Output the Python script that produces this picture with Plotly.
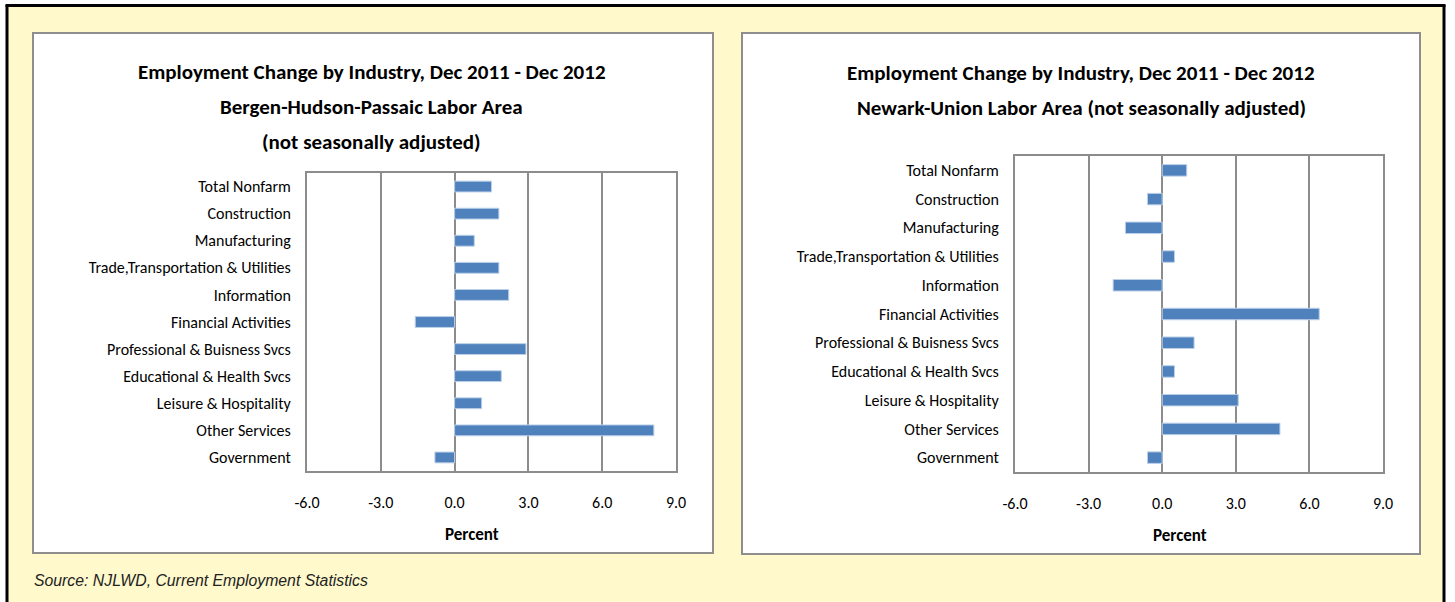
import plotly.graph_objects as go

W, H = 1455, 602

categories = ["Total Nonfarm", "Construction", "Manufacturing",
              "Trade,Transportation & Utilities", "Information",
              "Financial Activities", "Professional & Buisness Svcs",
              "Educational & Health Svcs", "Leisure & Hospitality",
              "Other Services", "Government"]
bergen_values = [1.5, 1.8, 0.8, 1.8, 2.2, -1.6, 2.9, 1.9, 1.1, 8.1, -0.8]
newark_values = [1.0, -0.6, -1.5, 0.5, -2.0, 6.4, 1.3, 0.5, 3.1, 4.8, -0.6]
tick_vals = [-6, -3, 0, 3, 6, 9]
tick_text = ["-6.0", "-3.0", "0.0", "3.0", "6.0", "9.0"]

left_title = ["Employment Change by Industry, Dec 2011 - Dec 2012",
              "Bergen-Hudson-Passaic Labor Area",
              "(not seasonally adjusted)"]
right_title = ["Employment Change by Industry, Dec 2011 - Dec 2012",
               "Newark-Union Labor Area (not seasonally adjusted)"]
source_text = "Source: NJLWD, Current Employment Statistics"

FONT = "Carlito, Calibri, 'Liberation Sans Narrow', 'DejaVu Sans Condensed', Lato, sans-serif"
BAR = "#4F81BD"
GRID = "#8c8c8c"


def px(x):
    return x / W


def py(y):
    return 1 - y / H


fig = go.Figure()
fig.add_trace(go.Bar(y=categories, x=bergen_values, orientation="h",
                     marker=dict(color=BAR, line=dict(color="#bcd0e8", width=1)),
                     xaxis="x", yaxis="y", showlegend=False))
fig.add_trace(go.Bar(y=categories, x=newark_values, orientation="h",
                     marker=dict(color=BAR, line=dict(color="#bcd0e8", width=1)),
                     xaxis="x2", yaxis="y2", showlegend=False))

xa = dict(range=[-6, 9], tickvals=tick_vals, ticktext=tick_text,
          showgrid=True, gridcolor=GRID, gridwidth=1.5,
          zeroline=True, zerolinecolor=GRID, zerolinewidth=1.5,
          showline=True, mirror=True, linecolor=GRID, linewidth=2,
          ticks="", ticklabelstandoff=16, automargin=False,
          tickfont=dict(family=FONT, size=16, color="black"), fixedrange=True)
ya = dict(categoryorder="array", categoryarray=categories[::-1],
          showgrid=False, zeroline=False,
          showline=True, mirror=True, linecolor=GRID, linewidth=2,
          ticks="", ticklabelstandoff=11, automargin=False,
          tickfont=dict(family=FONT, size=16, color="black"), fixedrange=True)

fig.update_layout(
    width=W, height=H, margin=dict(l=0, r=0, t=0, b=0, autoexpand=False),
    paper_bgcolor="white", plot_bgcolor="white",
    bargap=0.6,
    xaxis=dict(domain=[px(307), px(676)], anchor="y", **xa),
    yaxis=dict(domain=[py(471), py(173)], anchor="x", **ya),
    xaxis2=dict(domain=[px(1015), px(1383)], anchor="y2", **xa),
    yaxis2=dict(domain=[py(472), py(156)], anchor="x2", **ya),
)

shapes = [
    dict(type="rect", xref="paper", yref="paper", x0=px(8), x1=px(1443), y0=py(602), y1=py(6),
         fillcolor="#FFF9CC", line=dict(width=0), layer="below"),
    dict(type="line", xref="paper", yref="paper", x0=px(7), x1=px(7), y0=py(602), y1=py(5),
         line=dict(color="black", width=3), layer="below"),
    dict(type="line", xref="paper", yref="paper", x0=px(5.5), x1=px(1445.5), y0=py(5.5), y1=py(5.5),
         line=dict(color="black", width=3), layer="below"),
    dict(type="line", xref="paper", yref="paper", x0=px(1444), x1=px(1444), y0=py(602), y1=py(5),
         line=dict(color="black", width=3), layer="below"),
    dict(type="rect", xref="paper", yref="paper", x0=px(33), x1=px(713), y0=py(553), y1=py(33),
         fillcolor="white", line=dict(color="#8e8e8e", width=2), layer="below"),
    dict(type="rect", xref="paper", yref="paper", x0=px(742), x1=px(1420), y0=py(554), y1=py(33),
         fillcolor="white", line=dict(color="#8e8e8e", width=2), layer="below"),
]
fig.update_layout(shapes=shapes)

ann = []
for i, t in enumerate(left_title):
    ann.append(dict(text="<b>%s</b>" % t, x=px(372), y=py(72 + i * 35), xref="paper", yref="paper",
                    showarrow=False, xanchor="center", yanchor="middle",
                    font=dict(family=FONT, size=21, color="black")))
for i, t in enumerate(right_title):
    ann.append(dict(text="<b>%s</b>" % t, x=px(1081), y=py(73 + i * 35), xref="paper", yref="paper",
                    showarrow=False, xanchor="center", yanchor="middle",
                    font=dict(family=FONT, size=21, color="black")))
ann.append(dict(text="<b>Percent</b>", x=px(472), y=py(534), xref="paper", yref="paper",
                showarrow=False, xanchor="center", yanchor="middle",
                font=dict(family=FONT, size=17, color="black")))
ann.append(dict(text="<b>Percent</b>", x=px(1180), y=py(535), xref="paper", yref="paper",
                showarrow=False, xanchor="center", yanchor="middle",
                font=dict(family=FONT, size=17, color="black")))
ann.append(dict(text="<i>%s</i>" % source_text, x=px(32), y=py(580), xref="paper", yref="paper",
                showarrow=False, xanchor="left", yanchor="middle",
                font=dict(family="'Liberation Sans', Arial, sans-serif", size=15.8, color="#222")))
fig.update_layout(annotations=ann)

fig.write_html("out.html", config={"displayModeBar": False},
               post_script="document.body.style.margin='0';document.body.style.overflow='hidden';")
